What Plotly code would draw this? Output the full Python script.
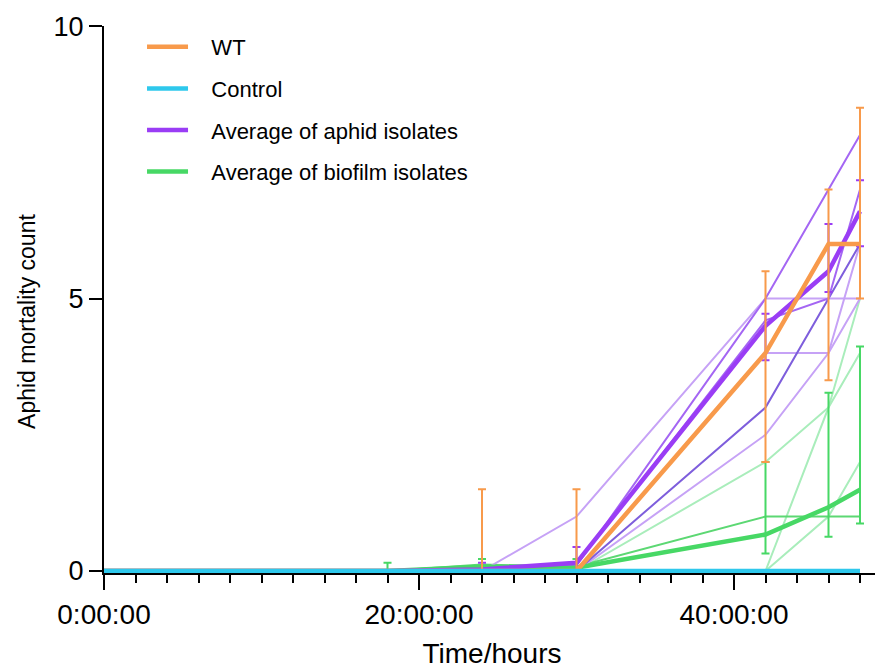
import plotly.graph_objects as go

# ---------------- data ----------------
time_h = [0, 18, 24, 30, 42, 46, 48]
x_tick_vals = [0, 20, 40]
x_tick_text = ["0:00:00", "20:00:00", "40:00:00"]
y_tick_vals = [0, 5, 10]

wt_mean = [0, 0, 0, 0, 4, 6, 6]
wt_err_plus = [None, None, 1.5, 1.5, 1.5, 1.0, 2.5]
wt_err_minus = [None, None, 0, 0, 2.0, 2.5, 1.0]

control_mean = [0, 0, 0, 0, 0, 0, 0]

aphid_mean = [0, 0, 0.03, 0.15, 4.5, 5.5, 6.6]
aphid_err_plus = [None, None, 0.12, 0.29, 0.22, 0.87, 0.57]
aphid_err_minus = [None, None, 0.03, 0.15, 0.63, 0.38, 0.64]

biofilm_mean = [0, 0, 0.08, 0.06, 0.67, 1.17, 1.49]
biofilm_err_plus = [None, 0.15, 0.14, 0.16, 1.33, 2.10, 2.63]
biofilm_err_minus = [None, 0, 0.08, 0.06, 0.35, 0.54, 0.62]

# individual aphid isolates
aphid_iso_1 = [0, 0, 0, 0.1, 5, 7, 8]
aphid_iso_2 = [0, 0, 0, 1, 5, 5, 5]
aphid_iso_3 = [0, 0, 0, 0, 4, 4, 6]
aphid_iso_4 = [0, 0, 0, 0, 3, 5, 6]
aphid_iso_5 = [0, 0, 0, 0, 2.5, 4, 5]
aphid_iso_6 = [0, 0, 0, 0.12, 4.6, 5, 7]

# individual biofilm isolates
biofilm_iso_1 = [0, 0, 0.1, 0, 2, 3, 5]
biofilm_iso_2 = [0, 0, 0, 0, 0, 3, 4]
biofilm_iso_3 = [0, 0, 0, 0, 0, 1, 2]
biofilm_iso_4 = [0, 0, 0.12, 0.08, 1, 1, 1]

# ---------------- colours ----------------
C_WT = "#F89A4B"
C_CTRL = "#2EC8EC"
C_APHID = "#9A3DF5"
C_BIO = "#47D865"
C_P_LIGHT = "#C6A2F6"
C_P_MED = "#A466F3"
C_P_DARK = "#7E5EDC"
C_G_LIGHT = "#A9EDBB"
C_G_MED = "#5CD873"

fig = go.Figure()

def thin(y, color, width=2):
    fig.add_trace(go.Scatter(x=time_h, y=y, mode="lines", showlegend=False,
                             hoverinfo="skip",
                             line=dict(color=color, width=width)))

thin(biofilm_iso_1, C_G_LIGHT)
thin(biofilm_iso_2, C_G_LIGHT)
thin(biofilm_iso_3, C_G_LIGHT)
thin(biofilm_iso_4, C_G_MED)
thin(aphid_iso_2, C_P_LIGHT)
thin(aphid_iso_3, C_P_LIGHT)
thin(aphid_iso_5, C_P_LIGHT)
thin(aphid_iso_4, C_P_DARK)
thin(aphid_iso_1, C_P_MED)
thin(aphid_iso_6, C_P_MED)

NB = "\u00a0\u00a0\u00a0"

def mean_trace(name, y, color, plus, minus, rank):
    fig.add_trace(go.Scatter(
        x=time_h, y=y, mode="lines", name=NB + name, legendgroup=name,
        legendrank=rank,
        line=dict(color=color, width=4.5),
        error_y=dict(type="data", symmetric=False, array=plus, arrayminus=minus,
                     color=color, thickness=2, width=4) if plus is not None else None,
    ))

mean_trace("Average of biofilm isolates", biofilm_mean, C_BIO, biofilm_err_plus, biofilm_err_minus, 4)
mean_trace("Average of aphid isolates", aphid_mean, C_APHID, aphid_err_plus, aphid_err_minus, 3)
mean_trace("WT", wt_mean, C_WT, wt_err_plus, wt_err_minus, 1)
mean_trace("Control", control_mean, C_CTRL, None, None, 2)

FONT = "Liberation Sans, Arial, sans-serif"

fig.add_annotation(text="Aphid mortality count", xref="paper", yref="paper",
                   x=-0.0992, y=0.459, textangle=-90, showarrow=False,
                   xanchor="center", yanchor="middle",
                   font=dict(size=23, family=FONT, color="black"))

fig.update_layout(
    width=875, height=661,
    margin=dict(l=96, r=3, t=14, b=96),
    paper_bgcolor="white", plot_bgcolor="white",
    font=dict(family=FONT, color="black"),
    showlegend=True,
    legend=dict(x=0.049, y=1.0, xanchor="left", yanchor="top",
                font=dict(size=22, family=FONT, color="black"),
                bgcolor="rgba(0,0,0,0)", tracegroupgap=10, itemwidth=41),
    xaxis=dict(range=[0, 49.27], showline=True, linecolor="black", linewidth=2,
               ticks="outside", ticklen=15, tickwidth=2, tickcolor="black",
               tickmode="array", tickvals=x_tick_vals, ticktext=x_tick_text,
               tickfont=dict(size=28), showgrid=False, zeroline=False,
               ticklabeloverflow="allow",
               minor=dict(dtick=2, tick0=0, ticks="outside", ticklen=8,
                          tickwidth=2, tickcolor="black", showgrid=False),
               title=dict(text="Time/hours", font=dict(size=28), standoff=15)),
    yaxis=dict(range=[-0.036, 10.001], showline=True, linecolor="black", linewidth=2,
               ticks="outside", ticklen=13, tickwidth=2, tickcolor="black",
               tickmode="array", tickvals=y_tick_vals,
               ticklabeloverflow="allow",
               tickfont=dict(size=27), showgrid=False, zeroline=False),
)

fig.write_html("out.html")
